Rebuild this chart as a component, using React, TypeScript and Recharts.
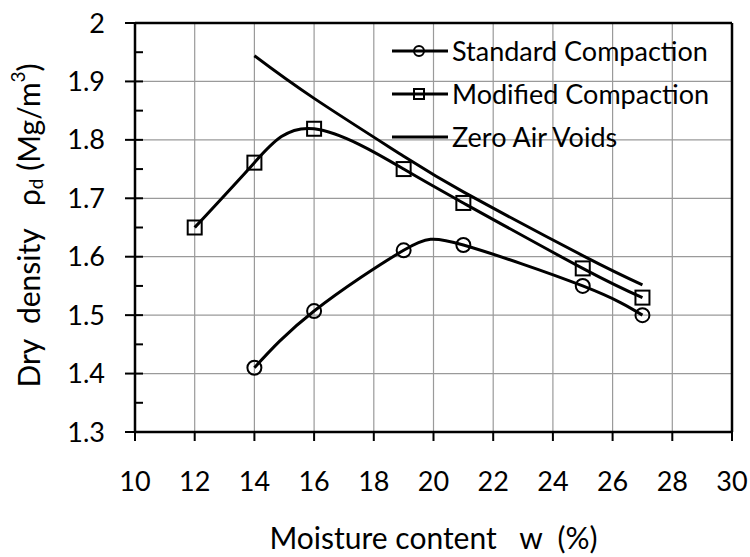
import { LineChart, Line, XAxis, YAxis, CartesianGrid, ReferenceLine } from "recharts";

// moisture content w (%) and dry density (Mg/m3)
const standardW = [14, 16, 19, 21, 25, 27];
const standardRho = [1.41, 1.507, 1.611, 1.62, 1.55, 1.5];

const modifiedW = [12, 14, 16, 19, 21, 25, 27];
const modifiedRho = [1.65, 1.761, 1.819, 1.75, 1.692, 1.58, 1.53];

const zavW = [14, 16, 19, 21, 25, 27];
const zavRho = [1.944, 1.871, 1.772, 1.711, 1.602, 1.552];

const xTicks = [10, 12, 14, 16, 18, 20, 22, 24, 26, 28, 30];
const xMinor = [11, 13, 15, 17, 19, 21, 23, 25, 27, 29];
const yTicks = [1.3, 1.4, 1.5, 1.6, 1.7, 1.8, 1.9, 2];
const yMinor = [1.35, 1.45, 1.55, 1.65, 1.75, 1.85, 1.95];

const seriesNames = ["Standard Compaction", "Modified Compaction", "Zero Air Voids"];

const toRows = (w: number[], rho: number[]) => w.map((x, i) => ({ w: x, rho: rho[i] }));

const standardData = toRows(standardW, standardRho);
const modifiedData = toRows(modifiedW, modifiedRho);
const zavData = toRows(zavW, zavRho);

const FONT = "Lato, 'Open Sans', sans-serif";
const black = "#000";
const blank = () => "";

const Circle = (props: any) => {
  const { cx, cy, index } = props;
  return <circle key={index} cx={cx} cy={cy} r={7} fill="none" stroke={black} strokeWidth={2} />;
};

const Square = (props: any) => {
  const { cx, cy, index } = props;
  return <rect key={index} x={cx - 7} y={cy - 7} width={14} height={14} fill="none" stroke={black} strokeWidth={2} />;
};

const YTitle = (props: any) => {
  const vb = props.viewBox || { x: 0, y: 23, width: 135, height: 409 };
  const cx = vb.x + 28;
  const cy = vb.y + vb.height / 2 - 2;
  return (
    <text
      x={cx}
      y={cy}
      transform={`rotate(-90 ${cx} ${cy})`}
      textAnchor="middle"
      dominantBaseline="central"
      fontFamily={FONT}
      fontSize={30}
      fill={black}
    >
      <tspan>{"Dry\u00A0\u00A0density\u00A0\u00A0\u00A0ρ"}</tspan>
      <tspan fontSize={19} dy={7}>d</tspan>
      <tspan dy={-7}>{"\u00A0(Mg/m"}</tspan>
      <tspan fontSize={19} dy={-11}>3</tspan>
      <tspan dy={11}>)</tspan>
    </text>
  );
};

const LegendIcon = ({ kind }: { kind: number }) => (
  <svg width={56} height={20} style={{ display: "block" }}>
    <line x1={0} y1={10} x2={56} y2={10} stroke={black} strokeWidth={2.8} />
    {kind === 0 && <circle cx={27} cy={10} r={5} fill="none" stroke={black} strokeWidth={2} />}
    {kind === 1 && <rect x={22} y={5} width={10} height={10} fill="none" stroke={black} strokeWidth={2} />}
  </svg>
);

const innerTick = { stroke: black, strokeWidth: 2 };

export default function App() {
  return (
    <div style={{ position: "absolute", left: 0, top: 0, width: 750, height: 557, background: "#fff" }}>
      <LineChart width={750} height={557} margin={{ top: 23, right: 18, bottom: 0, left: 0 }}>
        <CartesianGrid xAxisId="x" yAxisId="y" stroke="#9a9a9a" strokeWidth={1.2} />

        {/* inner tick marks: mirrored helper axes */}
        <XAxis
          xAxisId="xMaj"
          type="number"
          domain={[10, 30]}
          allowDataOverflow
          ticks={xTicks}
          interval={0}
          mirror
          height={1}
          tickSize={8}
          tickFormatter={blank}
          axisLine={false}
          tickLine={innerTick}
        />
        <XAxis
          xAxisId="xMin"
          type="number"
          domain={[10, 30]}
          allowDataOverflow
          ticks={xMinor}
          interval={0}
          mirror
          height={1}
          tickSize={7}
          tickFormatter={blank}
          axisLine={false}
          tickLine={innerTick}
        />
        <XAxis
          xAxisId="x"
          type="number"
          dataKey="w"
          domain={[10, 30]}
          ticks={xTicks}
          interval={0}
          height={125}
          tickSize={9}
          tickMargin={31}
          axisLine={{ stroke: black, strokeWidth: 2.5 }}
          tickLine={{ stroke: black, strokeWidth: 2 }}
          tick={{ fill: black, fontSize: 27, fontFamily: FONT }}
          label={{
            value: "Moisture content\u00A0\u00A0\u00A0w\u00A0\u00A0(%)",
            position: "insideBottom",
            offset: 8,
            fill: black,
            fontSize: 30,
            fontFamily: FONT,
          }}
        />

        <YAxis
          yAxisId="yMaj"
          type="number"
          domain={[1.3, 2]}
          allowDataOverflow
          ticks={yTicks}
          interval={0}
          mirror
          width={1}
          tickSize={8}
          tickFormatter={blank}
          axisLine={false}
          tickLine={innerTick}
        />
        <YAxis
          yAxisId="yMin"
          type="number"
          domain={[1.3, 2]}
          allowDataOverflow
          ticks={yMinor}
          interval={0}
          mirror
          width={1}
          tickSize={7}
          tickFormatter={blank}
          axisLine={false}
          tickLine={innerTick}
        />
        <YAxis
          yAxisId="y"
          type="number"
          domain={[1.3, 2]}
          ticks={yTicks}
          interval={0}
          width={135}
          tickSize={10}
          tickMargin={20}
          tickFormatter={(v: number) => String(v)}
          axisLine={{ stroke: black, strokeWidth: 2.5 }}
          tickLine={{ stroke: black, strokeWidth: 2 }}
          tick={{ fill: black, fontSize: 27, fontFamily: FONT }}
          label={(p: any) => <YTitle {...p} />}
        />

        <ReferenceLine xAxisId="x" yAxisId="y" y={2} stroke={black} strokeWidth={2.5} />
        <ReferenceLine xAxisId="x" yAxisId="y" x={30} stroke={black} strokeWidth={2.5} />

        <Line
          xAxisId="x"
          yAxisId="y"
          data={zavData}
          dataKey="rho"
          name={seriesNames[2]}
          type="natural"
          stroke={black}
          strokeWidth={3}
          dot={false}
          isAnimationActive={false}
        />
        <Line
          xAxisId="x"
          yAxisId="y"
          data={modifiedData}
          dataKey="rho"
          name={seriesNames[1]}
          type="natural"
          stroke={black}
          strokeWidth={3}
          dot={Square}
          isAnimationActive={false}
        />
        <Line
          xAxisId="x"
          yAxisId="y"
          data={standardData}
          dataKey="rho"
          name={seriesNames[0]}
          type="natural"
          stroke={black}
          strokeWidth={3}
          dot={Circle}
          isAnimationActive={false}
        />
      </LineChart>

      <div style={{ position: "absolute", left: 392, top: 29, fontFamily: FONT, fontSize: 27, color: black }}>
        {seriesNames.map((name, i) => (
          <div key={name} style={{ display: "flex", alignItems: "center", height: 43, lineHeight: "43px" }}>
            <LegendIcon kind={i} />
            <span style={{ marginLeft: 4, whiteSpace: "nowrap" }}>{name}</span>
          </div>
        ))}
      </div>
    </div>
  );
}
